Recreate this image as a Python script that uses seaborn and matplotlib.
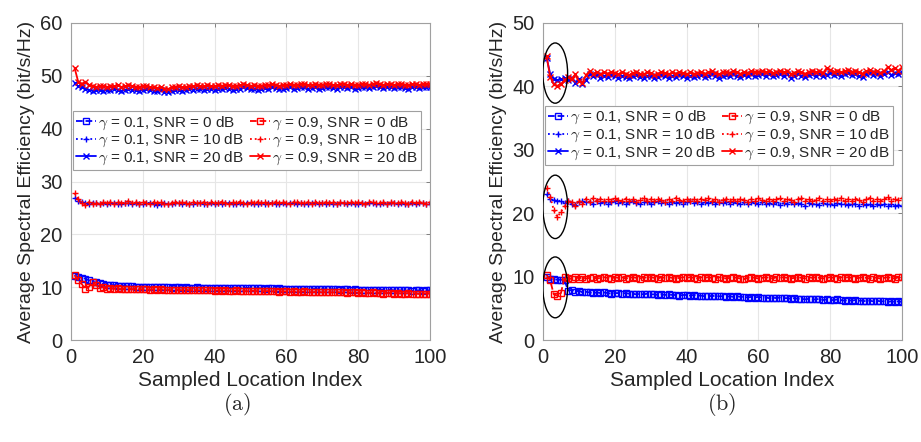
import numpy as np
import pandas as pd
import seaborn as sns
import matplotlib
matplotlib.use("Agg")
import matplotlib.pyplot as plt
from matplotlib.patches import Ellipse

# ---------------- data ----------------
idx = list(range(1, 101))

# panel (a)
a_g01_snr0 = [
    12.2, 12.0, 11.8, 11.6, 11.3, 11.0, 10.9, 10.7, 10.6, 10.5,
    10.4, 10.4, 10.3, 10.3, 10.2, 10.2, 10.2, 10.1, 10.1, 10.1,
    10.1, 10.0, 10.1, 10.0, 10.0, 10.0, 10.0, 9.9, 10.0, 10.0,
    9.9, 10.0, 9.9, 9.9, 10.0, 9.9, 9.9, 9.9, 9.9, 9.9,
    9.9, 9.8, 9.9, 9.9, 9.8, 9.9, 9.8, 9.8, 9.9, 9.8,
    9.8, 9.8, 9.8, 9.7, 9.8, 9.8, 9.7, 9.8, 9.7, 9.7,
    9.7, 9.7, 9.7, 9.6, 9.7, 9.7, 9.6, 9.7, 9.6, 9.6,
    9.6, 9.6, 9.6, 9.6, 9.5, 9.6, 9.6, 9.5, 9.6, 9.5,
    9.5, 9.5, 9.5, 9.5, 9.4, 9.5, 9.5, 9.4, 9.5, 9.4,
    9.4, 9.4, 9.4, 9.4, 9.3, 9.4, 9.4, 9.3, 9.4, 9.4]
a_g01_snr10 = [
    26.9, 26.4, 26.1, 25.9, 25.8, 26.0, 25.9, 25.7, 26.0, 25.8,
    25.9, 26.0, 25.8, 25.7, 25.9, 26.0, 25.8, 25.9, 25.7, 25.8,
    26.0, 25.9, 25.8, 25.6, 25.8, 25.9, 25.7, 25.8, 26.0, 25.9,
    25.8, 25.9, 25.7, 25.8, 25.9, 26.0, 25.8, 25.7, 25.9, 25.8,
    25.9, 25.8, 26.0, 25.9, 25.7, 25.8, 25.9, 25.8, 26.0, 25.9,
    25.8, 25.7, 25.9, 25.8, 26.0, 25.9, 25.8, 25.7, 25.9, 25.8,
    25.9, 26.0, 25.8, 25.9, 25.7, 25.8, 25.9, 26.0, 25.8, 25.9,
    25.8, 25.9, 25.7, 25.8, 26.0, 25.9, 25.8, 25.9, 25.7, 25.8,
    25.9, 25.8, 26.0, 25.9, 25.8, 25.7, 25.9, 25.8, 25.9, 26.0,
    25.8, 25.9, 25.7, 25.8, 25.9, 25.8, 26.0, 25.9, 25.7, 25.8]
a_g01_snr20 = [
    48.6, 48.0, 47.9, 47.6, 47.3, 47.2, 47.4, 47.3, 47.2, 47.4,
    47.3, 47.5, 47.4, 47.2, 47.3, 47.5, 47.4, 47.3, 47.2, 47.4,
    47.5, 47.3, 47.2, 47.1, 47.3, 47.0, 46.9, 47.2, 47.3, 47.4,
    47.2, 47.3, 47.5, 47.4, 47.6, 47.5, 47.4, 47.6, 47.5, 47.4,
    47.6, 47.5, 47.7, 47.6, 47.4, 47.5, 47.6, 47.8, 47.7, 47.5,
    47.6, 47.4, 47.5, 47.7, 47.6, 47.8, 47.7, 47.5, 47.6, 47.7,
    47.8, 47.6, 47.7, 47.9, 47.8, 47.6, 47.7, 47.8, 47.6, 47.7,
    47.9, 47.8, 47.7, 47.6, 47.8, 47.9, 47.7, 47.8, 47.6, 47.7,
    47.9, 47.8, 47.7, 47.9, 48.0, 47.8, 47.7, 47.9, 47.8, 47.7,
    47.8, 47.9, 47.7, 47.6, 47.8, 47.9, 47.7, 47.8, 47.9, 47.8]
a_g09_snr0 = [
    12.3, 11.4, 10.6, 9.6, 10.1, 11.0, 10.4, 9.9, 10.0, 9.7,
    9.8, 9.7, 9.8, 9.6, 9.7, 9.7, 9.6, 9.7, 9.6, 9.6,
    9.6, 9.5, 9.6, 9.5, 9.6, 9.5, 9.5, 9.4, 9.5, 9.5,
    9.4, 9.5, 9.4, 9.5, 9.4, 9.4, 9.5, 9.4, 9.4, 9.3,
    9.4, 9.3, 9.4, 9.3, 9.3, 9.4, 9.3, 9.3, 9.2, 9.3,
    9.3, 9.2, 9.3, 9.2, 9.3, 9.2, 9.2, 9.1, 9.2, 9.2,
    9.1, 9.2, 9.1, 9.1, 9.2, 9.1, 9.0, 9.1, 9.1, 9.0,
    9.1, 9.0, 9.0, 9.1, 9.0, 9.0, 8.9, 9.0, 9.0, 8.9,
    9.0, 8.9, 8.9, 9.0, 8.9, 8.9, 8.8, 8.9, 8.9, 8.8,
    8.9, 8.8, 8.8, 8.9, 8.8, 8.8, 8.7, 8.8, 8.8, 8.8]
a_g09_snr10 = [
    27.8, 26.6, 26.0, 25.6, 26.1, 25.8, 26.0, 25.7, 26.2, 25.9,
    26.1, 25.8, 26.2, 25.9, 26.0, 26.3, 25.9, 26.1, 25.8, 26.2,
    26.0, 25.8, 26.1, 25.9, 26.2, 25.8, 25.7, 26.0, 26.2, 25.9,
    26.1, 26.0, 25.8, 26.2, 26.0, 25.9, 26.1, 25.8, 26.2, 26.0,
    25.9, 26.2, 26.0, 25.8, 26.1, 25.9, 26.2, 26.0, 25.8, 26.1,
    26.0, 26.2, 25.9, 26.1, 25.8, 26.0, 26.2, 25.9, 26.1, 26.0,
    25.8, 26.1, 26.2, 25.9, 26.0, 26.1, 25.8, 26.2, 26.0, 25.9,
    26.1, 26.0, 26.2, 25.8, 26.1, 25.9, 26.0, 26.2, 25.9, 26.1,
    26.0, 25.8, 26.1, 26.2, 25.9, 26.0, 26.1, 25.8, 26.2, 26.0,
    25.9, 26.1, 26.0, 25.8, 26.2, 25.9, 26.1, 26.0, 25.8, 26.1]
a_g09_snr20 = [
    51.5, 48.9, 48.5, 48.9, 48.3, 48.0, 47.9, 48.1, 48.0, 47.9,
    48.1, 48.0, 48.2, 47.9, 48.0, 48.2, 48.1, 47.9, 47.8, 48.0,
    48.1, 47.9, 47.8, 47.7, 47.9, 47.6, 47.5, 47.8, 47.9, 48.0,
    47.8, 47.9, 48.1, 48.0, 48.2, 48.1, 48.0, 48.2, 48.1, 48.0,
    48.2, 48.1, 48.3, 48.2, 48.0, 48.1, 48.2, 48.4, 48.3, 48.1,
    48.2, 48.0, 48.1, 48.3, 48.2, 48.4, 48.3, 48.1, 48.2, 48.3,
    48.4, 48.2, 48.3, 48.5, 48.4, 48.2, 48.3, 48.4, 48.2, 48.3,
    48.5, 48.4, 48.3, 48.2, 48.4, 48.5, 48.3, 48.4, 48.2, 48.3,
    48.5, 48.4, 48.3, 48.5, 48.6, 48.4, 48.3, 48.5, 48.4, 48.3,
    48.4, 48.5, 48.3, 48.2, 48.4, 48.5, 48.3, 48.4, 48.5, 48.4]

# panel (b)
b_g01_snr0 = [
    10.0, 9.6, 9.6, 9.5, 9.5, 9.4, 7.8, 7.9, 7.6, 7.8,
    7.5, 7.6, 7.5, 7.4, 7.5, 7.4, 7.5, 7.4, 7.3, 7.4,
    7.4, 7.3, 7.4, 7.3, 7.3, 7.2, 7.3, 7.2, 7.3, 7.2,
    7.2, 7.1, 7.2, 7.1, 7.2, 7.1, 7.1, 7.0, 7.1, 7.1,
    7.0, 7.1, 7.0, 7.0, 6.9, 7.0, 6.9, 7.0, 6.9, 6.9,
    6.8, 6.9, 6.8, 6.9, 6.8, 6.8, 6.7, 6.8, 6.7, 6.8,
    6.7, 6.7, 6.6, 6.7, 6.6, 6.7, 6.6, 6.6, 6.5, 6.6,
    6.5, 6.5, 6.4, 6.5, 6.4, 6.4, 6.5, 6.3, 6.4, 6.3,
    6.3, 6.4, 6.3, 6.2, 6.3, 6.2, 6.3, 6.2, 6.2, 6.1,
    6.2, 6.1, 6.2, 6.1, 6.1, 6.0, 6.1, 6.0, 6.1, 6.0]
b_g01_snr10 = [
    23.0, 22.3, 22.1, 21.9, 22.0, 21.6, 21.9, 21.4, 21.3, 21.7,
    21.9, 21.7, 21.8, 21.5, 21.9, 21.6, 21.8, 21.5, 21.7, 21.9,
    21.6, 21.8, 21.5, 21.7, 21.9, 21.6, 21.4, 21.7, 21.8, 21.5,
    21.7, 21.9, 21.6, 21.8, 21.5, 21.7, 21.6, 21.8, 21.5, 21.7,
    21.9, 21.6, 21.8, 21.5, 21.7, 21.6, 21.8, 21.5, 21.7, 21.6,
    21.8, 21.5, 21.7, 21.6, 21.4, 21.7, 21.5, 21.8, 21.6, 21.5,
    21.7, 21.4, 21.6, 21.5, 21.7, 21.3, 21.6, 21.5, 21.7, 21.4,
    21.6, 21.5, 21.2, 21.6, 21.4, 21.5, 21.3, 21.6, 21.4, 21.5,
    21.3, 21.6, 21.4, 21.5, 21.3, 21.5, 21.4, 21.2, 21.5, 21.3,
    21.4, 21.1, 21.4, 21.3, 21.5, 21.2, 21.4, 21.1, 21.3, 21.2]
b_g01_snr20 = [
    44.5, 42.0, 41.2, 41.0, 41.1, 41.3, 41.0, 41.4, 40.6, 41.2,
    40.4, 41.0, 41.9, 41.6, 41.8, 41.4, 41.7, 41.5, 41.8, 41.6,
    41.4, 41.7, 41.5, 41.3, 41.6, 41.8, 41.5, 41.4, 41.7, 41.6,
    41.3, 41.5, 41.8, 41.6, 41.4, 41.7, 41.5, 41.8, 41.6, 41.4,
    41.7, 41.5, 41.6, 41.8, 41.5, 41.7, 41.9, 41.6, 41.4, 41.7,
    41.8, 41.6, 41.9, 41.7, 41.5, 41.8, 41.6, 41.9, 41.7, 41.8,
    42.0, 41.7, 41.9, 41.6, 41.8, 42.0, 41.7, 41.9, 41.3, 41.6,
    41.9, 41.7, 41.5, 41.8, 42.0, 41.7, 41.9, 41.6, 41.8, 42.1,
    41.8, 42.0, 41.7, 41.9, 42.1, 41.8, 42.0, 41.7, 41.5, 41.9,
    42.1, 41.8, 42.0, 41.6, 41.9, 42.2, 41.8, 42.1, 41.9, 42.2]
b_g09_snr0 = [
    10.3, 9.4, 7.2, 7.0, 7.4, 9.9, 9.8, 9.6, 10.0, 9.7,
    9.9, 9.7, 9.8, 9.9, 9.7, 9.8, 9.9, 9.8, 9.7, 9.9,
    9.8, 9.9, 9.7, 9.8, 9.9, 9.8, 9.7, 9.9, 9.8, 9.9,
    9.8, 9.7, 9.9, 9.8, 9.9, 9.8, 9.7, 9.8, 9.9, 9.8,
    9.9, 9.8, 9.7, 9.9, 9.8, 9.9, 9.8, 9.7, 9.9, 9.8,
    9.7, 9.8, 9.9, 9.8, 9.7, 9.6, 9.8, 9.9, 9.8, 9.7,
    9.8, 9.9, 9.8, 9.7, 9.9, 9.8, 9.9, 9.8, 9.7, 9.8,
    9.9, 9.8, 9.7, 9.9, 9.8, 9.9, 9.8, 9.7, 9.8, 9.9,
    9.8, 9.7, 9.9, 9.8, 9.9, 9.8, 9.7, 9.8, 9.9, 9.8,
    9.7, 9.9, 9.8, 9.7, 9.8, 9.9, 9.8, 9.7, 9.9, 9.9]
b_g09_snr10 = [
    24.0, 22.6, 20.5, 19.4, 20.2, 21.1, 22.0, 21.7, 21.2, 22.0,
    21.4, 22.3, 21.8, 22.4, 22.0, 22.3, 21.9, 22.2, 22.0, 22.4,
    22.1, 21.9, 22.3, 22.0, 22.2, 21.8, 22.1, 22.4, 22.0, 22.2,
    21.9, 22.3, 22.1, 21.8, 22.2, 22.0, 22.4, 22.1, 21.9, 22.3,
    22.0, 22.2, 21.9, 22.3, 22.1, 22.4, 22.0, 22.2, 21.8, 22.1,
    22.3, 22.0, 22.2, 21.9, 22.3, 22.1, 21.8, 22.2, 22.0, 22.4,
    22.1, 21.9, 22.3, 22.0, 22.2, 22.4, 22.0, 22.3, 22.1, 21.8,
    22.2, 22.4, 22.0, 22.3, 21.9, 22.1, 22.4, 22.0, 22.2, 21.9,
    22.3, 22.1, 22.4, 21.9, 22.2, 22.0, 22.3, 22.1, 21.8, 22.2,
    22.4, 22.0, 22.3, 21.9, 22.2, 22.5, 22.0, 22.3, 22.1, 22.4]
b_g09_snr20 = [
    44.8, 41.5, 40.3, 40.1, 40.4, 41.0, 41.5, 41.2, 41.9, 40.8,
    40.6, 41.8, 42.4, 42.0, 42.3, 41.9, 42.2, 42.0, 42.3, 42.1,
    41.9, 42.2, 42.0, 41.8, 42.1, 42.3, 42.0, 41.9, 42.2, 42.1,
    41.8, 42.0, 42.3, 42.1, 41.9, 42.2, 42.0, 42.3, 42.1, 41.9,
    42.2, 42.0, 42.1, 42.3, 42.0, 42.2, 42.4, 42.1, 41.9, 42.2,
    42.3, 42.1, 42.4, 42.2, 42.0, 42.3, 42.1, 42.4, 42.2, 42.3,
    42.5, 42.2, 42.4, 42.1, 42.3, 42.5, 42.2, 42.4, 42.0, 42.1,
    42.4, 42.2, 42.0, 42.3, 42.5, 42.2, 42.4, 42.1, 42.9, 42.6,
    42.3, 42.5, 42.2, 42.4, 42.6, 42.3, 42.5, 42.2, 42.0, 42.4,
    42.6, 42.3, 42.5, 42.1, 42.4, 43.0, 42.6, 42.9, 42.5, 43.0]

labels = [r"$\gamma$ = 0.1, SNR = 0 dB", r"$\gamma$ = 0.1, SNR = 10 dB",
          r"$\gamma$ = 0.1, SNR = 20 dB", r"$\gamma$ = 0.9, SNR = 0 dB",
          r"$\gamma$ = 0.9, SNR = 10 dB", r"$\gamma$ = 0.9, SNR = 20 dB"]
panel_a = [a_g01_snr0, a_g01_snr10, a_g01_snr20, a_g09_snr0, a_g09_snr10, a_g09_snr20]
panel_b = [b_g01_snr0, b_g01_snr10, b_g01_snr20, b_g09_snr0, b_g09_snr10, b_g09_snr20]
captions = ["(a)", "(b)"]

# ---------------- style ----------------
sns.set_style("white")
plt.rcParams["font.family"] = ["Liberation Sans", "DejaVu Sans"]
plt.rcParams["mathtext.fontset"] = "cm"

colors = ["#0000FF"] * 3 + ["#FF0000"] * 3
lstyles = ["--", ":", "-"] * 2
markers = ["s", "+", "x"] * 2
msizes = [4, 5, 4] * 2

fig = plt.figure(figsize=(9.21, 4.42), dpi=100)
ax_a = fig.add_axes([71 / 921, 1 - 340 / 442, 359 / 921, 317 / 442])
ax_b = fig.add_axes([543 / 921, 1 - 340 / 442, 359 / 921, 317 / 442])

for ax, series, ymax, legy in [(ax_a, panel_a, 60, 0.722), (ax_b, panel_b, 50, 0.738)]:
    for k, vals in enumerate(series):
        sns.lineplot(x=idx, y=vals, ax=ax, color=colors[k], linestyle=lstyles[k],
                     marker=markers[k], markersize=msizes[k], markerfacecolor="none",
                     markeredgecolor=colors[k], markeredgewidth=1.0, linewidth=1.3,
                     label=labels[k], legend=False)
    ax.set_xlim(0, 100)
    ax.set_ylim(0, ymax)
    ax.set_xticks([0, 20, 40, 60, 80, 100])
    ax.set_yticks(np.arange(0, ymax + 1, 10))
    ax.grid(True, color="#e6e6e6", linewidth=0.8)
    ax.set_axisbelow(True)
    for s in ax.spines.values():
        s.set_color("#a0a0a0")
        s.set_linewidth(0.8)
    ax.tick_params(direction="in", length=3, width=0.6, color="#707070",
                   top=True, right=True, labelsize=14.5, labelcolor="#262626")
    ax.tick_params(axis="x", pad=6)
    ax.tick_params(axis="y", pad=6)
    ax.set_xlabel("Sampled Location Index", fontsize=15, color="#262626", labelpad=3)
    ax.set_ylabel("Average Spectral Efficiency (bit/s/Hz)", fontsize=14, color="#262626",
                  labelpad=4)
    handles, labs = ax.get_legend_handles_labels()
    leg = ax.legend(handles, labs, ncol=2, loc="upper left",
                    bbox_to_anchor=(0.006, legy),
                    fontsize=11, frameon=True, fancybox=False, framealpha=1,
                    edgecolor="#a0a0a0", handlelength=1.3, handletextpad=0.15,
                    columnspacing=0.4, labelspacing=0.02, borderpad=0.2,
                    borderaxespad=0.0)
    leg.get_frame().set_linewidth(0.8)

# ellipses in panel (b)
for cy, h in [(42.1, 9.5), (21.0, 10.0), (8.3, 9.6)]:
    ax_b.add_patch(Ellipse((3.4, cy), width=6.9, height=h, fill=False,
                           edgecolor="black", linewidth=1.0, zorder=5))

fig.text(237 / 921, 1 - 405 / 442, r"$\mathrm{(a)}$", ha="center", va="center", fontsize=16)
fig.text(722 / 921, 1 - 405 / 442, r"$\mathrm{(b)}$", ha="center", va="center", fontsize=16)

fig.savefig("out.png", dpi=100)
